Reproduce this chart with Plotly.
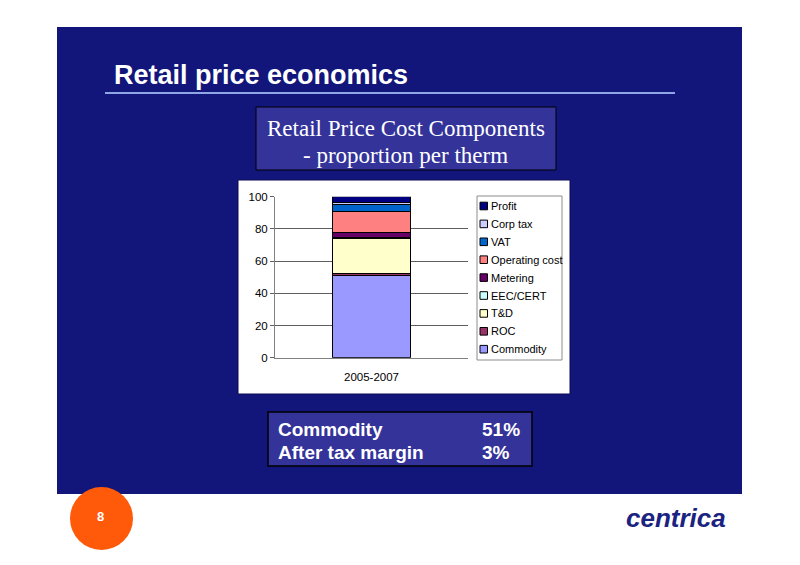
import plotly.graph_objects as go

W, H = 800, 565

categories = ["2005-2007"]
components = ["Commodity", "ROC", "T&D", "EEC/CERT", "Metering",
              "Operating cost", "VAT", "Corp tax", "Profit"]
values = [51.0, 1.5, 21.3, 1.0, 2.8, 13.5, 4.2, 1.2, 3.5]
colors = ["#9999FF", "#993366", "#FFFFCC", "#CCFFFF", "#660066",
          "#FF8080", "#0066CC", "#CCCCFF", "#000080"]
y_ticks = [0, 20, 40, 60, 80, 100]

summary_labels = ["Commodity", "After tax margin"]
summary_values = ["51%", "3%"]


def px(x):
    return x / W


def py(y):
    return 1 - y / H


fig = go.Figure()
for name, val, col in zip(components, values, colors):
    fig.add_trace(go.Bar(
        x=categories, y=[val], name=name,
        marker=dict(color=col, line=dict(color="#000000", width=1)),
        width=0.4, showlegend=False,
    ))

shapes = []
# slide blue background
shapes.append(dict(type="rect", xref="paper", yref="paper",
                   x0=px(57), x1=px(742), y0=py(494), y1=py(27),
                   fillcolor="#12157A", line=dict(width=0), layer="below"))
# orange page marker
shapes.append(dict(type="circle", xref="paper", yref="paper",
                   x0=px(70), x1=px(133), y0=py(550), y1=py(487),
                   fillcolor="#FF5A0A", line=dict(width=0), layer="below"))
# title underline
shapes.append(dict(type="line", xref="paper", yref="paper",
                   x0=px(105), x1=px(675), y0=py(93), y1=py(93),
                   line=dict(color="#8EA6E6", width=2), layer="below"))
# subtitle box
shapes.append(dict(type="rect", xref="paper", yref="paper",
                   x0=px(256), x1=px(556), y0=py(170), y1=py(107),
                   fillcolor="#33339A", line=dict(color="#000000", width=1), layer="below"))
# chart white area
shapes.append(dict(type="rect", xref="paper", yref="paper",
                   x0=px(238), x1=px(570), y0=py(394), y1=py(180),
                   fillcolor="#FFFFFF", line=dict(color="#0B0D50", width=1), layer="below"))
# summary box
shapes.append(dict(type="rect", xref="paper", yref="paper",
                   x0=px(268), x1=px(532), y0=py(466), y1=py(412),
                   fillcolor="#33339A", line=dict(color="#000000", width=1.5), layer="below"))
# legend box
LEG_L, LEG_R, LEG_T, LEG_B = 477, 562, 196, 360
shapes.append(dict(type="rect", xref="paper", yref="paper",
                   x0=px(LEG_L), x1=px(LEG_R), y0=py(LEG_B), y1=py(LEG_T),
                   fillcolor="#FFFFFF", line=dict(color="#8C8C8C", width=1), layer="above"))

PA = dict(xref="paper", yref="paper", showarrow=False)
annotations = [
    dict(text="<b>Retail price economics</b>", x=px(112), y=py(75),
         xanchor="left", yanchor="middle",
         font=dict(family="Liberation Sans, Arial", size=27, color="#FFFFFF"), **PA),
    dict(text="Retail Price Cost Components", x=px(406), y=py(128),
         xanchor="center", yanchor="middle",
         font=dict(family="Liberation Serif, Times New Roman", size=23, color="#FFFFFF"), **PA),
    dict(text="- proportion per therm", x=px(406), y=py(155),
         xanchor="center", yanchor="middle",
         font=dict(family="Liberation Serif, Times New Roman", size=23, color="#FFFFFF"), **PA),
    dict(text="<b>8</b>", x=px(100), y=py(516), xanchor="center", yanchor="middle",
         font=dict(family="Liberation Sans, Arial", size=13, color="#FFFFFF"), **PA),
    dict(text="<b><i>centrica</i></b>", x=px(728), y=py(518), xanchor="right",
         yanchor="middle",
         font=dict(family="Liberation Sans, Arial", size=26, color="#1B2380"), **PA),
]
for i, (lab, v) in enumerate(zip(summary_labels, summary_values)):
    yy = 429 + i * 23
    annotations.append(dict(text="<b>%s</b>" % lab, x=px(276), y=py(yy),
                            xanchor="left", yanchor="middle",
                            font=dict(family="Liberation Sans, Arial", size=19, color="#FFFFFF"), **PA))
    annotations.append(dict(text="<b>%s</b>" % v, x=px(480), y=py(yy),
                            xanchor="left", yanchor="middle",
                            font=dict(family="Liberation Sans, Arial", size=19, color="#FFFFFF"), **PA))

# legend entries (top entry = last stacked component)
for i, (name, col) in enumerate(zip(components[::-1], colors[::-1])):
    cy = 206 + i * 17.9
    shapes.append(dict(type="rect", xref="paper", yref="paper",
                       x0=px(480), x1=px(487.5), y0=py(cy + 3.8), y1=py(cy - 3.8),
                       fillcolor=col, line=dict(color="#000000", width=1), layer="above"))
    annotations.append(dict(text=name, x=px(489), y=py(cy), xanchor="left",
                            yanchor="middle",
                            font=dict(family="Liberation Sans, Arial", size=11, color="#000000"),
                            **PA))

fig.update_layout(
    template="none",
    width=W, height=H,
    autosize=False,
    margin=dict(l=0, r=0, t=0, b=0, pad=0, autoexpand=False),
    paper_bgcolor="#FFFFFF",
    plot_bgcolor="#C0C0C0",
    barmode="stack",
    showlegend=False,
    shapes=shapes,
    annotations=annotations,
    font=dict(family="Liberation Sans, Arial", size=11, color="#000000"),
    xaxis=dict(domain=[px(275), px(468)], range=[-0.5, 0.5], automargin=False,
               showline=True, linecolor="#808080", linewidth=1,
               ticks="", tickfont=dict(size=11.5, color="#000000"),
               ticklabelstandoff=8,
               showgrid=False, zeroline=False, fixedrange=True),
    yaxis=dict(domain=[py(357.7), py(196.7)], range=[0, 100], automargin=False,
               tickvals=y_ticks, showline=True, linecolor="#808080", linewidth=1,
               ticks="outside", ticklen=4, tickcolor="#606060",
               showgrid=True, gridcolor="#5E5E5E", gridwidth=1,
               zeroline=False, tickfont=dict(size=11.5, color="#000000"),
               fixedrange=True),
)

fig.write_html("out.html", config={"displayModeBar": False},
               post_script="document.body.style.margin='0';")
